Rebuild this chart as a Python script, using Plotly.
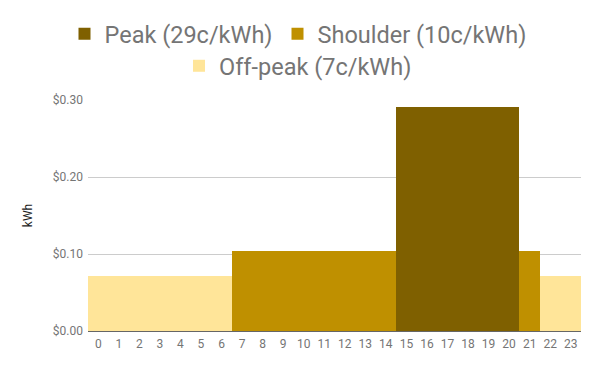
import plotly.graph_objects as go

hours = list(range(24))
peak_hours = [15, 16, 17, 18, 19, 20]
shoulder_hours = [7, 8, 9, 10, 11, 12, 13, 14, 21]
offpeak_hours = [0, 1, 2, 3, 4, 5, 6, 22, 23]
peak_rate = 0.291
shoulder_rate = 0.104
offpeak_rate = 0.072

series = [
    ("Peak (29c/kWh)", peak_hours, peak_rate, "#7f6000", "legend"),
    ("Shoulder (10c/kWh)", shoulder_hours, shoulder_rate, "#bf9000", "legend"),
    ("Off-peak (7c/kWh)", offpeak_hours, offpeak_rate, "#ffe599", "legend2"),
]

fig = go.Figure()
for name, hrs, rate, color, lg in series:
    fig.add_trace(go.Bar(
        x=hours,
        y=[rate if h in hrs else None for h in hours],
        name=name,
        legend=lg,
        marker=dict(color=color, line=dict(width=0)),
    ))

# the page body has an 8px default margin, so figure coords = screen coords - 8
legend_common = dict(orientation="h", xref="container", yref="container",
                     x=290 / 600, xanchor="center", yanchor="middle",
                     font=dict(size=23.5, color="#757575"), traceorder="normal",
                     bgcolor="rgba(0,0,0,0)")

fig.update_layout(
    width=600, height=371,
    barmode="stack", bargap=0,
    plot_bgcolor="white", paper_bgcolor="white",
    margin=dict(l=80, r=27, t=92, b=48, autoexpand=False),
    font=dict(family="Roboto", color="#757575", size=12),
    legend=dict(y=1 - 26 / 371, **legend_common),
    legend2=dict(y=1 - 58 / 371, **legend_common),
    xaxis=dict(tickmode="array", tickvals=hours, ticktext=[str(h) for h in hours],
               showgrid=False, range=[-0.5, 23.5], tickfont=dict(size=12),
               ticklabelstandoff=4, automargin=False),
    yaxis=dict(range=[0, 0.3], tickvals=[0, 0.1, 0.2, 0.3], tickformat="$.2f",
               gridcolor="#cccccc", zeroline=True, zerolinecolor="#666666", zerolinewidth=1,
               title=dict(text="kWh", font=dict(size=12, color="#222222"), standoff=17),
               ticks="", tickfont=dict(size=12), ticklabelstandoff=4, automargin=False),
)
fig.write_html("out.html")
